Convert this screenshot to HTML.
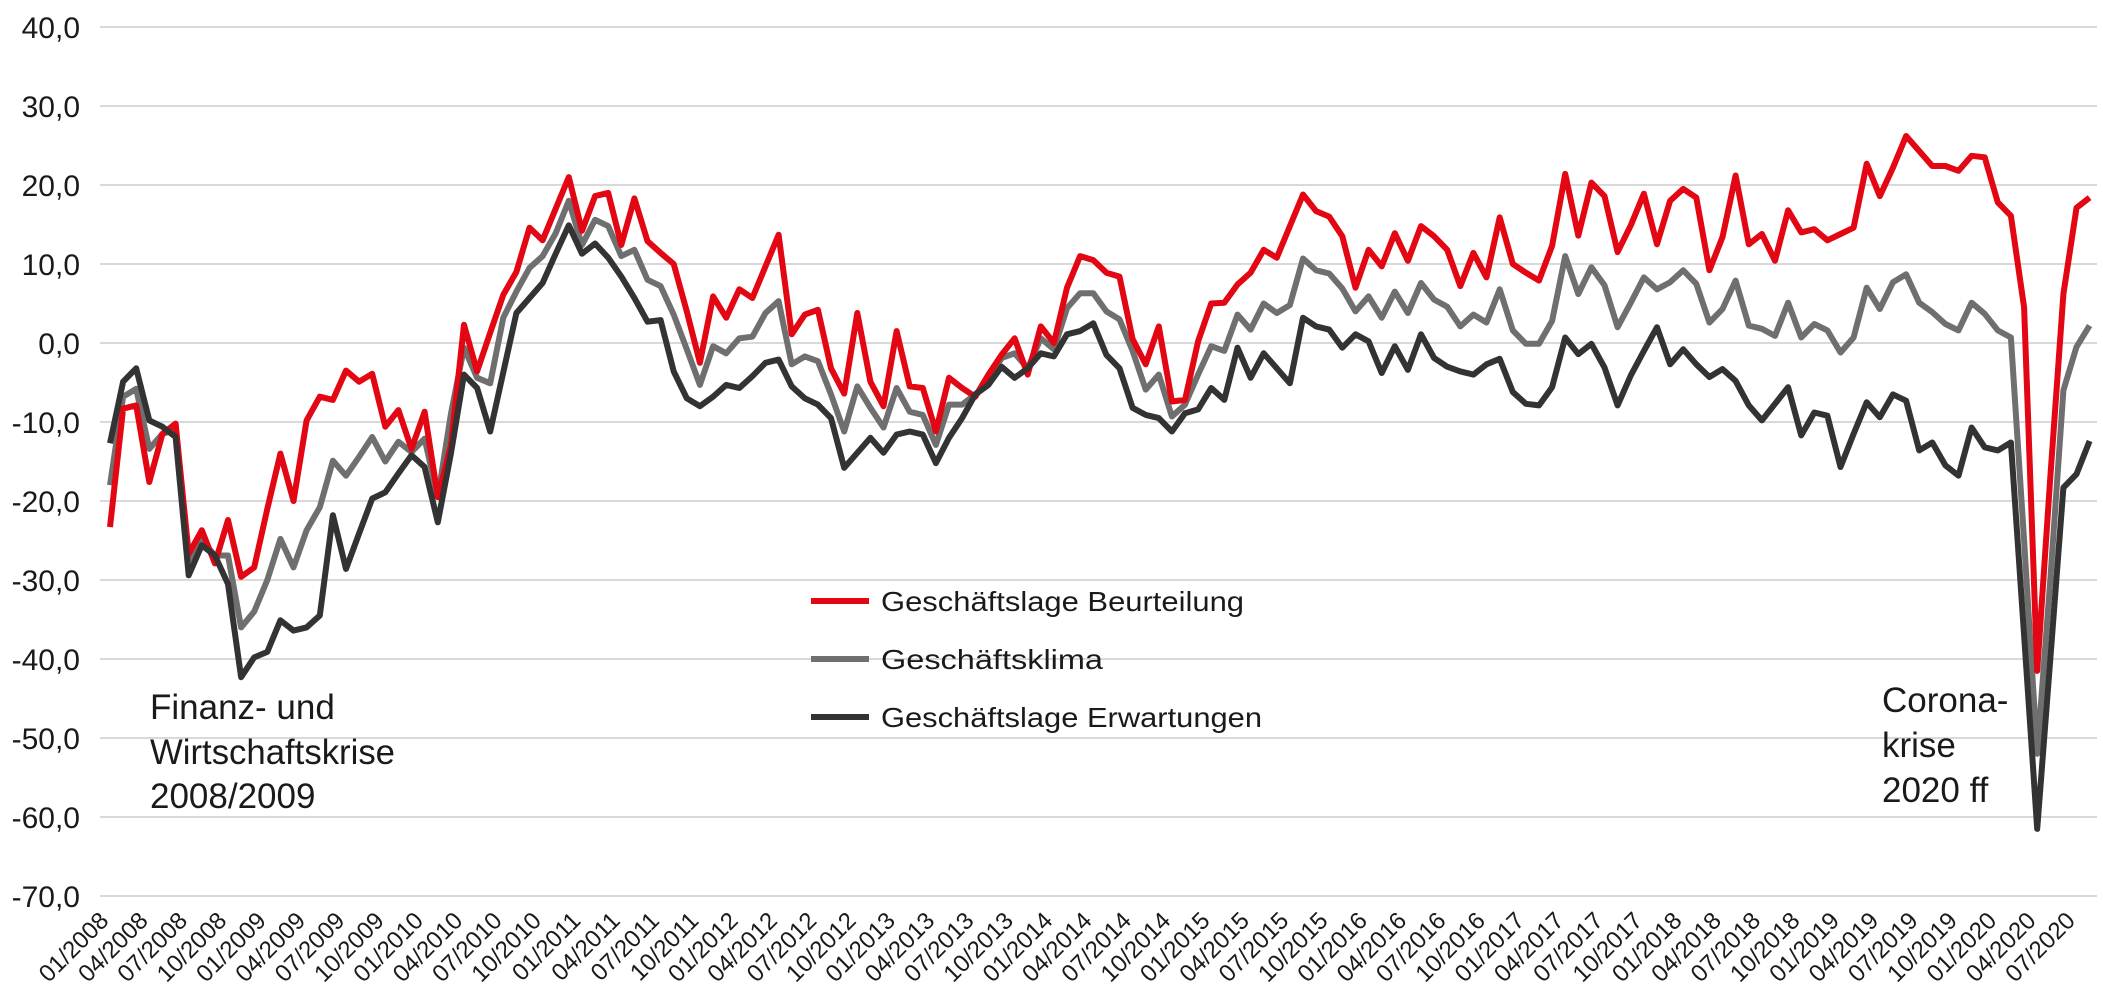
<!DOCTYPE html>
<html><head><meta charset="utf-8"><style>
html,body{margin:0;padding:0;background:#fff;}
svg{display:block;font-family:"Liberation Sans",sans-serif;}
</style></head><body>
<svg id="chart" width="2103" height="1002" viewBox="0 0 2103 1002" xmlns="http://www.w3.org/2000/svg">
<g id="grid"></g>
<g id="ylabels"></g>
<g id="xlabels"></g>
<g id="series"></g>
<g>
  <g>
    <line x1="811" y1="601" x2="869" y2="601" stroke="#e30613" stroke-width="6"/>
    <text x="881" y="611" font-size="28" fill="#1a1a1a" textLength="363" lengthAdjust="spacingAndGlyphs">Geschäftslage Beurteilung</text>
  </g>
  <g>
    <line x1="811" y1="659" x2="869" y2="659" stroke="#6f6f6f" stroke-width="6"/>
    <text x="881" y="669" font-size="28" fill="#1a1a1a" textLength="222" lengthAdjust="spacingAndGlyphs">Geschäftsklima</text>
  </g>
  <g>
    <line x1="811" y1="717" x2="869" y2="717" stroke="#333333" stroke-width="6"/>
    <text x="881" y="727" font-size="28" fill="#1a1a1a" textLength="381" lengthAdjust="spacingAndGlyphs">Geschäftslage Erwartungen</text>
  </g>
</g>
<g font-size="35" fill="#1a1a1a">
  <text x="150" y="719">Finanz- und</text>
  <text x="150" y="764" textLength="245" lengthAdjust="spacingAndGlyphs">Wirtschaftskrise</text>
  <text x="150" y="808">2008/2009</text>
</g>
<g font-size="35" fill="#1a1a1a">
  <text x="1882" y="712">Corona-</text>
  <text x="1882" y="757">krise</text>
  <text x="1882" y="802">2020 ff</text>
</g>
</svg>
<script>
const yTicks = [40,30,20,10,0,-10,-20,-30,-40,-50,-60,-70];
const startYear = 2008;
const beurteilung = [-23.3,-8.3,-7.9,-17.6,-11.5,-10.2,-26.7,-23.7,-27.9,-22.4,-29.6,-28.4,-21,-14,-20,-9.8,-6.8,-7.2,-3.5,-4.9,-3.9,-10.6,-8.5,-13.4,-8.7,-19.5,
-13,
2.3,-3.6,1.3,6.1,9,14.6,13,17,21,14.2,18.6,19,12.4,18.3,12.9,11.4,10,4,-2.5,5.9,3.2,6.8,5.7,9.7,13.7,
1.1,3.6,4.2,-3.2,-6.4,3.8,-4.9,-8,1.5,-5.5,-5.7,-11.2,-4.4,-5.7,-6.8,-4,-1.5,0.6,-4,2.1,0,7,11,10.5,8.9,8.4,
0.5,-2.7,2.1,-7.4,-7.2,0.2,5,5.1,7.4,8.9,11.8,10.8,14.8,18.8,16.7,16,13.5,7,11.8,9.7,13.9,10.4,14.8,13.5,11.8,7.2,11.4,
8.3,15.9,10,8.9,7.9,12.3,21.4,13.6,20.3,18.6,11.5,14.9,18.9,12.5,18,19.5,18.4,9.2,13.4,21.2,12.5,13.8,10.4,16.8,14,14.4,
13,13.8,14.6,22.7,18.6,22.2,26.2,24.3,22.4,22.4,21.8,23.7,23.5,17.8,16.1,4.5,-41.5,-17,6.2,17.1,18.4];
const klima = [-18,-6.8,-5.8,-13.4,-11.5,-11,-27.5,-25,-26.9,-26.9,-36,-34,-30,-24.8,-28.4,-23.7,-20.8,-14.9,-16.8,-14.4,-11.9,-15,-12.5,-13.8,-12.1,-19.5,
-9,
-0.6,-4.4,-5.1,3.2,6.5,9.5,11,13.9,18,12.4,15.6,14.8,11,11.8,8,7.2,3.6,-0.8,-5.3,-0.4,-1.3,0.6,0.8,3.8,5.3,
-2.7,-1.7,-2.3,-6.5,-11.2,-5.5,-8.2,-10.7,-5.7,-8.7,-9.1,-12.9,-7.8,-7.8,-6.5,-4.9,-1.9,-1.3,-3.2,0.6,-0.8,4.4,6.3,6.3,4,3,
-1,-5.9,-4,-9.3,-7.8,-4,-0.4,-1,3.6,1.7,5,3.8,4.8,10.7,9.2,8.8,6.9,4,5.9,3.2,6.5,3.8,7.6,5.5,4.6,2.1,3.6,
2.6,6.8,1.6,-0.1,-0.1,2.8,11,6.2,9.6,7.3,2,5.1,8.3,6.8,7.7,9.2,7.5,2.6,4.3,7.9,2.2,1.8,0.9,5.1,0.7,2.4,
1.6,-1.2,0.7,7,4.3,7.7,8.7,5.1,3.9,2.4,1.6,5.1,3.7,1.6,0.7,-25,-52,-30,-6,-0.5,2.2];
const erwartungen = [-12.7,-4.9,-3.2,-9.8,-10.6,-11.9,-29.4,-25.6,-26.9,-30.5,-42.3,-39.8,-39.1,-35.1,-36.4,-36,-34.5,-21.8,-28.6,-24.1,-19.7,-18.9,-16.5,-14.2,-15.7,-22.7,
-14,
-4,-5.7,-11.2,-3.7,3.8,5.7,7.6,11.3,14.9,11.3,12.6,10.8,8.4,5.7,2.7,2.9,-3.6,-7,-8,-6.8,-5.3,-5.7,-4.2,-2.5,-2.1,
-5.5,-7,-7.8,-9.5,-15.8,-13.9,-12,-13.9,-11.6,-11.2,-11.6,-15.2,-12,-9.5,-6.5,-5.3,-3,-4.4,-3.2,-1.3,-1.7,1.1,1.5,2.5,-1.5,-3.2,
-8.2,-9.1,-9.5,-11.2,-8.9,-8.4,-5.7,-7.2,-0.6,-4.4,-1.3,-3.2,-5.1,3.2,2.1,1.7,-0.6,1.1,0.2,-3.8,-0.4,-3.4,1.1,-1.9,-3,-3.6,-4,
-2.7,-2,-6.2,-7.7,-7.9,-5.6,0.7,-1.4,-0.1,-3.1,-7.9,-4.1,-1,2,-2.7,-0.8,-2.7,-4.3,-3.3,-4.8,-7.9,-9.8,-7.7,-5.6,-11.7,-8.8,
-9.2,-15.7,-11.5,-7.5,-9.4,-6.5,-7.3,-13.6,-12.6,-15.5,-16.8,-10.7,-13.2,-13.6,-12.6,-37,-61.5,-40,-18.3,-16.6,-12.4];

const NS = "http://www.w3.org/2000/svg";
const X0 = 110, DX = 13.11;
function xAt(i){ return X0 + DX*i; }
function yAt(v){ return 343 - 7.9*v; }

const grid = document.getElementById('grid');
const ylab = document.getElementById('ylabels');
yTicks.forEach(t=>{
  const l = document.createElementNS(NS,'line');
  
  
  l.setAttribute('x1',100); l.setAttribute('x2',2097);
  l.setAttribute('y1',yAt(t)); l.setAttribute('y2',yAt(t));
  l.setAttribute('stroke','#d9d9d9'); l.setAttribute('stroke-width','2');
  grid.appendChild(l);
  const tx = document.createElementNS(NS,'text');
  
  
  tx.setAttribute('x',80); tx.setAttribute('y',yAt(t)+11);
  tx.setAttribute('text-anchor','end'); tx.setAttribute('font-size','30');
  tx.setAttribute('fill','#1a1a1a');
  tx.textContent = t.toFixed(1).replace('.',',');
  ylab.appendChild(tx);
});

const xlab = document.getElementById('xlabels');
for(let i=0;i<beurteilung.length;i+=3){
  const m = (i%12)+1, yr = startYear + Math.floor(i/12);
  const tx = document.createElementNS(NS,'text');
  
  
  const x = xAt(i), y = 922;
  tx.setAttribute('x',x); tx.setAttribute('y',y);
  tx.setAttribute('text-anchor','end'); tx.setAttribute('font-size','24');
  tx.setAttribute('fill','#1a1a1a');
  tx.setAttribute('transform','rotate(-45 '+x+' '+y+')');
  tx.textContent = (m<10?'0':'')+m+'/'+yr;
  xlab.appendChild(tx);
}

const series = document.getElementById('series');
function drawLine(arr, color, name){
  const p = document.createElementNS(NS,'polyline');
  
  
  p.setAttribute('points', arr.map((v,i)=>xAt(i).toFixed(1)+','+yAt(v).toFixed(1)).join(' '));
  p.setAttribute('fill','none'); p.setAttribute('stroke',color);
  p.setAttribute('stroke-width','6'); p.setAttribute('stroke-linejoin','round');
  series.appendChild(p);
}
drawLine(klima,'#6f6f6f','line-geschaeftsklima');
drawLine(beurteilung,'#e30613','line-geschaeftslage-beurteilung');
drawLine(erwartungen,'#333333','line-geschaeftslage-erwartungen');
</script>
</body></html>
